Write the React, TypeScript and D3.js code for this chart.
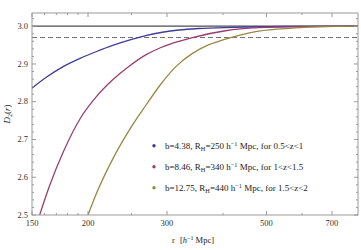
import { scaleLog, scaleLinear, line as d3Line, curveMonotoneX, range } from "d3";

type Pt = [number, number];

// [r, D2]
const blueSeries: Pt[] = [
  [150, 2.836], [162, 2.866], [176, 2.893], [192, 2.915], [209, 2.933],
  [227, 2.949], [247, 2.963], [269, 2.975], [293, 2.984], [319, 2.99],
  [353, 2.994], [420, 2.997], [550, 2.9992], [800, 3.0],
];
const magentaSeries: Pt[] = [
  [156, 2.5], [164, 2.576], [176, 2.666], [192, 2.755], [209, 2.814],
  [227, 2.858], [247, 2.894], [269, 2.924], [290, 2.943], [319, 2.96],
  [342, 2.97], [405, 2.988], [480, 2.996], [600, 2.999], [800, 3.0],
];
const oliveSeries: Pt[] = [
  [200, 2.5], [209, 2.558], [227, 2.648], [247, 2.724], [269, 2.79],
  [290, 2.845], [314, 2.893], [342, 2.928], [372, 2.951], [405, 2.966],
  [441, 2.978], [480, 2.987], [570, 2.995], [675, 2.999], [800, 3.0],
];

const legendLabels = [
  { b: "4.38", rh: "250", z: "0.5<z<1", color: "#3f3d99" },
  { b: "8.46", rh: "340", z: "1<z<1.5", color: "#993d71" },
  { b: "12.75", rh: "440", z: "1.5<z<2", color: "#998740" },
];

const xMajor = [150, 200, 300, 500, 700];
const xMinor = [160, 170, 180, 190, 250, 400, 600];
const yMajor = [2.5, 2.6, 2.7, 2.8, 2.9, 3.0];
const limitValue = 3.0;
const dashedValue = 2.97;

export default function App() {
  const W = 361;
  const H = 250;
  const margin = { top: 13, right: 3, bottom: 35, left: 32 };
  const width = W - margin.left - margin.right;
  const height = H - margin.top - margin.bottom;

  const x = scaleLog().domain([150, 800]).range([0, width]);
  const y = scaleLinear().domain([2.5, 3.035]).range([height, 0]);

  const yMinor = range(2.5, 3.035, 0.02).filter(
    (v) => !yMajor.some((m) => Math.abs(m - v) < 1e-6)
  );

  const gen = d3Line<Pt>()
    .x((d) => x(d[0]))
    .y((d) => y(d[1]))
    .curve(curveMonotoneX);

  const series = [blueSeries, magentaSeries, oliveSeries];
  const font = "'Liberation Serif', 'DejaVu Serif', serif";
  const frame = "#9a9a9a";

  return (
    <svg
      width={W}
      height={H}
      style={{ position: "absolute", left: 0, top: 0, background: "#fff" }}
      fontFamily={font}
    >
      <defs>
        <clipPath id="plot">
          <rect x={0} y={0} width={width} height={height} />
        </clipPath>
      </defs>
      <g transform={`translate(${margin.left},${margin.top})`}>
        {/* reference lines */}
        <line x1={0} x2={width} y1={y(limitValue)} y2={y(limitValue)} stroke="#4d4d4d" strokeWidth={1.2} />
        <line
          x1={0}
          x2={width}
          y1={y(dashedValue)}
          y2={y(dashedValue)}
          stroke="#707070"
          strokeWidth={1}
          strokeDasharray="5,3"
        />

        <g clipPath="url(#plot)">
          {series.map((s, i) => (
            <path
              key={i}
              d={gen(s) ?? ""}
              fill="none"
              stroke={legendLabels[i].color}
              strokeWidth={1.3}
            />
          ))}
        </g>

        {/* frame */}
        <rect x={0} y={0} width={width} height={height} fill="none" stroke={frame} strokeWidth={1} />

        {/* x ticks top & bottom */}
        {xMajor.map((t) => (
          <g key={`xm-${t}`}>
            <line x1={x(t)} x2={x(t)} y1={height} y2={height - 4} stroke={frame} />
            <line x1={x(t)} x2={x(t)} y1={0} y2={4} stroke={frame} />
            <text x={x(t)} y={height + 11} textAnchor="middle" fontSize={8.5} fill="#333">
              {t}
            </text>
          </g>
        ))}
        {xMinor.map((t) => (
          <g key={`xn-${t}`}>
            <line x1={x(t)} x2={x(t)} y1={height} y2={height - 2} stroke={frame} />
            <line x1={x(t)} x2={x(t)} y1={0} y2={2} stroke={frame} />
          </g>
        ))}

        {/* y ticks left & right */}
        {yMajor.map((t) => (
          <g key={`ym-${t}`}>
            <line x1={0} x2={4} y1={y(t)} y2={y(t)} stroke={frame} />
            <line x1={width} x2={width - 4} y1={y(t)} y2={y(t)} stroke={frame} />
            <text x={-4} y={y(t)} dy="0.32em" textAnchor="end" fontSize={8.5} fill="#333">
              {t.toFixed(1)}
            </text>
          </g>
        ))}
        {yMinor.map((t) => (
          <g key={`yn-${t.toFixed(2)}`}>
            <line x1={0} x2={2} y1={y(t)} y2={y(t)} stroke={frame} />
            <line x1={width} x2={width - 2} y1={y(t)} y2={y(t)} stroke={frame} />
          </g>
        ))}

        {/* legend */}
        {legendLabels.map((l, i) => {
          const ly = 132.7 + i * 21;
          return (
            <g key={`lg-${i}`} transform={`translate(122,${ly})`}>
              <circle cx={0} cy={0} r={1.7} fill={l.color} />
              <text x={11} y={0} dy="0.32em" fontSize={9} fill="#222">
                {`b=${l.b}, R`}
                <tspan fontSize={6.3} dy={2}>H</tspan>
                <tspan dy={-2}>{`=${l.rh} h`}</tspan>
                <tspan fontSize={6.3} dy={-3}>−1</tspan>
                <tspan dy={3}>{` Mpc, for ${l.z}`}</tspan>
              </text>
            </g>
          );
        })}
      </g>

      {/* axis titles */}
      <text x={172} y={243} fontSize={8.5} fill="#222">
        <tspan>r</tspan>
        <tspan x={180}>[</tspan>
        <tspan fontStyle="italic">h</tspan>
        <tspan fontSize={6} dy={-3}>−1</tspan>
        <tspan dy={3}> Mpc]</tspan>
      </text>
      <text transform="translate(10,114) rotate(-90)" textAnchor="middle" fontSize={9} fill="#222">
        <tspan fontStyle="italic">D</tspan>
        <tspan fontSize={6} dy={2}>2</tspan>
        <tspan dy={-2}>(</tspan>
        <tspan fontStyle="italic">r</tspan>
        <tspan>)</tspan>
      </text>
    </svg>
  );
}
